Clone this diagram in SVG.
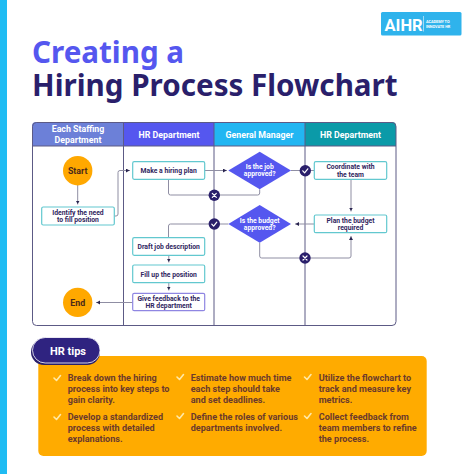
<svg xmlns="http://www.w3.org/2000/svg" width="474" height="474" viewBox="0 0 474 474">
<defs>
<style>
text{font-family:Roboto,"Liberation Sans",sans-serif;font-weight:700}
.t{font-family:"Noto Sans","Liberation Sans",sans-serif;font-size:29.6px}
.h{font-size:8.8px;fill:#fff;text-anchor:middle}
.b{font-size:6.8px;fill:#2f2560;text-anchor:middle}
.d{font-size:6.8px;fill:#fff;text-anchor:middle}
.se{font-size:8.8px;fill:#4a2a1a;text-anchor:middle}
.tip{font-size:9.1px;fill:#6b3a2c}
.box{fill:#fff;stroke:#62c8cf;stroke-width:1.2}
.line{fill:none;stroke:#5c5a85;stroke-width:1}
.c{fill:none;stroke:#8f8ea3;stroke-width:1}
.ci{fill:#2a1f6b}
.g{fill:none;stroke:#fff;stroke-width:1.2;stroke-linecap:round;stroke-linejoin:round}
.ck{fill:none;stroke:#ffe9a8;stroke-width:1.6;stroke-linecap:round;stroke-linejoin:round}
</style>
<marker id="a" markerWidth="5" markerHeight="5" refX="4" refY="2" orient="auto" markerUnits="userSpaceOnUse"><path d="M0 0L3.600 2L0 4Z" fill="#2a2550"/></marker>
</defs>
<rect width="474" height="474" fill="#fff"/>
<rect width="7" height="474" fill="#1fbcf3"/>
<g id="logo"><rect x="381" y="12" width="80.500" height="23.500" rx="1.500" fill="#2fb3ec"/>
<text x="384.500" y="30.500" font-size="16.500" fill="#fff">AIHR</text>
<rect x="423" y="16" width="0.700" height="15.500" fill="#cfeefb"/>
<text x="426" y="22.800" font-size="3.800" fill="#fff">ACADEMY TO</text>
<text x="426" y="27.800" font-size="3.800" fill="#fff">INNOVATE HR</text></g>
<text class="t" x="32" y="63" fill="#5557ef">Creating a</text>
<text class="t" x="32" y="96" fill="#2a1f6b">Hiring Process Flowchart</text>

<g id="table">
<path d="M32 146V126a4 4 0 0 1 4-4H123.500V146Z" fill="#6c80d8"/>
<rect x="123.500" y="122" width="90.500" height="24" fill="#5557ef"/>
<rect x="214" y="122" width="91" height="24" fill="#22b6f2"/>
<path d="M305 122H392a4 4 0 0 1 4 4V146H305Z" fill="#0b9aa8"/>
<rect class="line" x="32.500" y="122.500" width="363.500" height="203" rx="4"/>
<path class="line" d="M32.500 146H396M123.500 122V325.500M214 122V325.500M305 122V325.500"/>
<text class="h" x="78" y="132">Each Staffing</text>
<text class="h" x="78" y="142.500">Department</text>
<text class="h" x="169" y="137.500">HR Department</text>
<text class="h" x="259.500" y="137.500">General Manager</text>
<text class="h" x="350.500" y="137.500">HR Department</text>
</g>

<g id="connectors">
<path class="c" marker-end="url(#a)" d="M77.700 185V204.500"/>
<path class="c" marker-end="url(#a)" d="M114.300 216H116a2 2 0 0 0 2-2V172.500a2 2 0 0 1 2-2H130"/>
<path class="c" marker-end="url(#a)" d="M204.700 170.500H227"/>
<path class="c" d="M291 170.500H314.300"/>
<path class="c" marker-end="url(#a)" d="M351 179.300V211.500"/>
<path class="c" marker-end="url(#a)" d="M314.300 224H295"/>
<path class="c" marker-end="url(#a)" d="M259.700 242.700V256a2 2 0 0 0 2 2H349a2 2 0 0 0 2-2V236"/>
<path class="c" d="M168.500 179.300V193a2 2 0 0 0 2 2H257.700a2 2 0 0 0 2-2V189.300"/>
<path class="c" d="M228.300 224H170.500a2 2 0 0 0-2 2V237.700"/>
<path class="c" marker-end="url(#a)" d="M168.800 255.300V262.500"/>
<path class="c" marker-end="url(#a)" d="M168.800 282.700V290.500"/>
<path class="c" marker-end="url(#a)" d="M132.700 302.500H96"/>
</g>

<g id="start"><circle cx="77.700" cy="170.700" r="14.700" fill="#ffa800"/><text class="se" x="77.700" y="174">Start</text></g>
<g id="identify"><rect class="box" x="41.700" y="207" width="72.600" height="18" rx="1.500"/><text class="b" x="78" y="214.500">Identify the need</text><text class="b" x="78" y="222">to fill position</text></g>
<g id="plan"><rect class="box" x="132.700" y="161.700" width="72" height="17.600" rx="1.500"/><text class="b" x="168.700" y="173">Make a hiring plan</text></g>
<g id="d1"><path d="M259.700 151.700L291 170.500L259.700 189.300L228.300 170.500Z" fill="#5557ef"/><text class="d" x="259.700" y="169">Is the job</text><text class="d" x="259.700" y="176">approved?</text></g>
<g id="coord"><rect class="box" x="314.300" y="161.700" width="72.400" height="17.600" rx="1.500"/><text class="b" x="350.500" y="169">Coordinate with</text><text class="b" x="350.500" y="176.500">the team</text></g>
<g id="budget"><rect class="box" x="314.300" y="215" width="72.400" height="17.700" rx="1.500"/><text class="b" x="350.500" y="222.500">Plan the budget</text><text class="b" x="350.500" y="230">required</text></g>
<g id="d2"><path d="M259.700 205L291 224L259.700 242.700L228.300 224Z" fill="#5557ef"/><text class="d" x="259.700" y="223">Is the budget</text><text class="d" x="259.700" y="230">approved?</text></g>
<g id="draft"><rect class="box" x="132.700" y="237.700" width="72" height="17.600" rx="1.500"/><text class="b" x="168.700" y="248.900">Draft job description</text></g>
<g id="fill"><rect class="box" x="132.700" y="265" width="72" height="17.700" rx="1.500"/><text class="b" x="168.700" y="276.500">Fill up the position</text></g>
<g id="feedback"><rect x="132.700" y="293.300" width="72" height="17.400" rx="1.500" fill="#fff" stroke="#8f86e2" stroke-width="1.200"/><text class="b" x="168.700" y="300.500">Give feedback to the</text><text class="b" x="168.700" y="307.800">HR department</text></g>
<g id="end"><circle cx="77.700" cy="302.400" r="14.700" fill="#ffa800"/><text class="se" x="77.700" y="305.700">End</text></g>

<g id="x1"><circle class="ci" cx="214.300" cy="195.300" r="5.700"/><path class="g" d="M212.300 193.300L216.300 197.300M216.300 193.300L212.300 197.300"/></g>
<g id="x2"><circle class="ci" cx="305" cy="258" r="5.700"/><path class="g" d="M303 256L307 260M307 256L303 260"/></g>
<g id="c1"><circle class="ci" cx="305.300" cy="170.700" r="5.700"/><path class="g" d="M302.800 170.800L304.600 172.800L307.800 168.800"/></g>
<g id="c2"><circle class="ci" cx="214.300" cy="224" r="5.700"/><path class="g" d="M211.800 224.100L213.600 226.100L216.800 222.100"/></g>

<g id="tips">
<rect x="38.300" y="356" width="388.400" height="100" rx="5" fill="#ffab00"/>
<rect x="31" y="339" width="69" height="26" rx="13" fill="#2a1f6b"/>
<rect x="32.500" y="337.500" width="67.500" height="25.500" rx="12.700" fill="#2f2380" stroke="#fff" stroke-width="0.800"/>
<text x="50" y="355" font-size="11" fill="#fff">HR tips</text>
<path class="ck" d="M54 378L56.500 380.500L60.500 375.500"/>
<path class="ck" d="M54 417L56.500 419.500L60.500 414.500"/>
<path class="ck" d="M177 377L179.500 379.500L183.500 374.500"/>
<path class="ck" d="M177 416L179.500 418.500L183.500 413.500"/>
<path class="ck" d="M304.500 377L307 379.500L311 374.500"/>
<path class="ck" d="M304.500 416L307 418.500L311 413.500"/>
<text class="tip" x="67.700" y="381">Break down the hiring</text>
<text class="tip" x="67.700" y="392">process into key steps to</text>
<text class="tip" x="67.700" y="403">gain clarity.</text>
<text class="tip" x="67.700" y="420">Develop a standardized</text>
<text class="tip" x="67.700" y="431">process with detailed</text>
<text class="tip" x="67.700" y="442">explanations.</text>
<text class="tip" x="190.700" y="381">Estimate how much time</text>
<text class="tip" x="190.700" y="392">each step should take</text>
<text class="tip" x="190.700" y="403">and set deadlines.</text>
<text class="tip" x="190.700" y="420">Define the roles of various</text>
<text class="tip" x="190.700" y="431">departments involved.</text>
<text class="tip" x="318.700" y="381">Utilize the flowchart to</text>
<text class="tip" x="318.700" y="392">track and measure key</text>
<text class="tip" x="318.700" y="403">metrics.</text>
<text class="tip" x="318.700" y="420">Collect feedback from</text>
<text class="tip" x="318.700" y="431">team members to refine</text>
<text class="tip" x="318.700" y="442">the process.</text>
</g>
</svg>
